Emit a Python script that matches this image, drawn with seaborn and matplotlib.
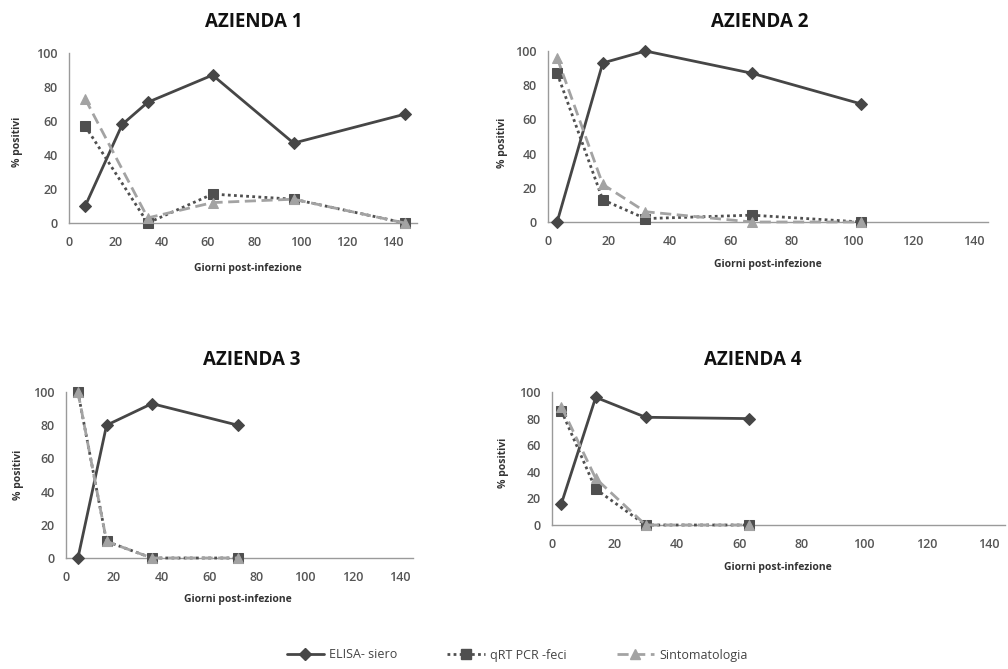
import matplotlib
matplotlib.use("Agg")
import matplotlib.pyplot as plt
import seaborn as sns
import pandas as pd
from matplotlib.lines import Line2D

# ---------------- data ----------------
panel_titles = ["AZIENDA 1", "AZIENDA 2", "AZIENDA 3", "AZIENDA 4"]
series_names = ["ELISA- siero", "qRT PCR -feci", "Sintomatologia"]

a1_days_elisa = [7, 23, 34, 62, 97, 145]
a1_elisa = [10, 58, 71, 87, 47, 64]
a1_days = [7, 34, 62, 97, 145]
a1_qrt = [57, 0, 17, 14, 0]
a1_sinto = [73, 3, 12, 14, 0]

a2_days = [3, 18, 32, 67, 103]
a2_elisa = [0, 93, 100, 87, 69]
a2_qrt = [87, 13, 2, 4, 0]
a2_sinto = [96, 22, 6, 0, 0]

a3_days = [5, 17, 36, 72]
a3_elisa = [0, 80, 93, 80]
a3_qrt = [100, 10, 0, 0]
a3_sinto = [100, 10, 0, 0]

a4_days = [3, 14, 30, 63]
a4_elisa = [16, 96, 81, 80]
a4_qrt = [86, 27, 0, 0]
a4_sinto = [89, 35, 0, 0]

x_ticks = [0, 20, 40, 60, 80, 100, 120, 140]
y_ticks = [0, 20, 40, 60, 80, 100]
x_label = "Giorni post-infezione"
y_label = "% positivi"

panels = [
    (a1_days_elisa, a1_elisa, a1_days, a1_qrt, a1_days, a1_sinto),
    (a2_days, a2_elisa, a2_days, a2_qrt, a2_days, a2_sinto),
    (a3_days, a3_elisa, a3_days, a3_qrt, a3_days, a3_sinto),
    (a4_days, a4_elisa, a4_days, a4_qrt, a4_days, a4_sinto),
]

# ---------------- style ----------------
sns.set_style("white")
plt.rcParams["font.family"] = ["Open Sans", "DejaVu Sans"]

W, H = 1008, 669
fig = plt.figure(figsize=(W / 100, H / 100), dpi=100)

# axes geometry in pixels: (left, right, y0_px, y100_px, xmax)
geoms = [
    (69, 417, 223, 53, 150.3),
    (548, 988, 222, 51, 144.6),
    (66, 413, 558, 392, 145.4),
    (552, 1005, 525, 392, 145.1),
]
title_pos = [(254, 22), (760, 22), (252, 360), (753, 360)]
xlab_pos = [(0.514, -0.27), (0.5, -0.251), (0.496, -0.253), (0.499, -0.316)]
ylab_pos = [(-0.147, 0.476), (-0.103, 0.46), (-0.138, 0.5), (-0.107, 0.466)]

c_elisa = "#464646"
c_qrt = "#4f4f4f"
c_sinto = "#a3a3a3"
c_axis = "#9a9a9a"
c_tick = "#555555"

styles = [
    dict(color=c_elisa, linestyle="-", linewidth=2.0, marker="D", markersize=6.5,
         markerfacecolor=c_elisa, markeredgecolor=c_elisa),
    dict(color=c_qrt, linestyle=(0, (1, 1.2)), linewidth=2.0, marker="s", markersize=7,
         markerfacecolor=c_qrt, markeredgecolor=c_qrt),
    dict(color=c_sinto, linestyle=(0, (4, 2)), linewidth=2.0, marker="^", markersize=7.5,
         markerfacecolor=c_sinto, markeredgecolor=c_sinto),
]

for i, (geo, data) in enumerate(zip(geoms, panels)):
    left, right, y0, y100, xmax = geo
    ax = fig.add_axes([left / W, 1 - y0 / H, (right - left) / W, (y0 - y100) / H])
    xe, ye, xq, yq, xs, ys = data
    dfs = [
        pd.DataFrame({"giorni": xe, "pct": ye}),
        pd.DataFrame({"giorni": xq, "pct": yq}),
        pd.DataFrame({"giorni": xs, "pct": ys}),
    ]
    order = [1, 2, 0]
    for k in order:
        sns.lineplot(data=dfs[k], x="giorni", y="pct", ax=ax, clip_on=False,
                     zorder=3 + k, estimator=None, sort=False, **styles[k])
    ax.set_xlim(0, xmax)
    ax.set_ylim(0, 100)
    ax.set_xticks(x_ticks)
    ax.set_yticks(y_ticks)
    for s in ["top", "right"]:
        ax.spines[s].set_visible(False)
    for s in ["left", "bottom"]:
        ax.spines[s].set_color(c_axis)
        ax.spines[s].set_linewidth(1.0)
    ax.tick_params(axis="x", direction="inout", length=4, width=1, color=c_axis,
                   labelsize=9, labelcolor=c_tick, pad=7.5)
    ax.tick_params(axis="y", length=0, labelsize=9, labelcolor=c_tick, pad=8)
    for lab in ax.get_xticklabels() + ax.get_yticklabels():
        lab.set_fontweight("semibold")
    ax.set_xlabel(x_label, fontsize=7.5, fontweight="bold", color="#333333")
    ax.set_ylabel(y_label, fontsize=7.5, fontweight="bold", color="#333333")
    ax.xaxis.set_label_coords(*xlab_pos[i])
    ax.xaxis.label.set_va("center")
    ax.yaxis.set_label_coords(*ylab_pos[i])
    ax.yaxis.label.set_va("center")
    ax.grid(False)
    tx, ty = title_pos[i]
    fig.text(tx / W, 1 - ty / H, panel_titles[i], ha="center", va="center",
             fontsize=13.5, fontweight="bold", color="#111111")

handles = [Line2D([], [], **st) for st in styles]
fig.legend(handles, series_names, loc="lower center", bbox_to_anchor=(0.513, 0.0),
           ncol=3, frameon=False, fontsize=9, handlelength=3.0,
           columnspacing=4.0, handletextpad=0.4, borderpad=0.1,
           labelcolor="#444444")

fig.savefig("out.png", dpi=100, facecolor="white")
